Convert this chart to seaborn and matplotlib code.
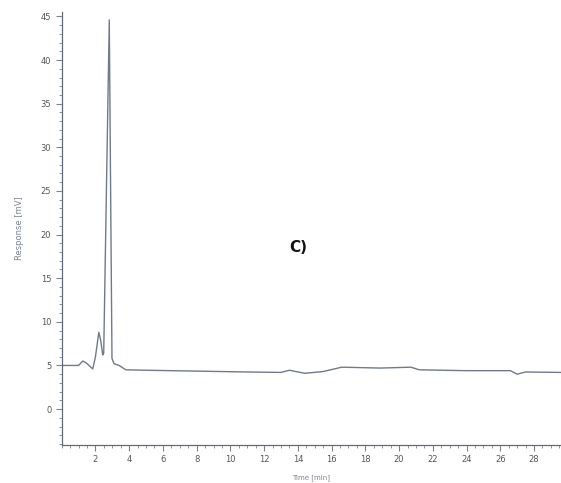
import matplotlib
matplotlib.use("Agg")
import matplotlib.pyplot as plt
import seaborn as sns
import pandas as pd
from matplotlib.ticker import MultipleLocator

# Chromatogram trace
time_min = [0, 1.0, 1.25, 1.45, 1.84, 2.0, 2.2, 2.32, 2.43, 2.49, 2.65, 2.82,
            2.92, 2.98, 3.1, 3.4, 3.8, 5, 8, 11, 13, 13.5, 14.4, 15.5, 16.6,
            18.9, 20.7, 21.2, 24, 26.6, 27.0, 27.5, 29.6]
response_mv = [5.0, 5.0, 5.5, 5.3, 4.6, 6.0, 8.8, 7.8, 6.2, 6.4, 25.0, 44.6,
               20.0, 5.8, 5.2, 5.0, 4.5, 4.45, 4.35, 4.25, 4.2, 4.45, 4.1,
               4.3, 4.8, 4.7, 4.8, 4.5, 4.4, 4.4, 4.0, 4.25, 4.2]
x_ticks = [2, 4, 6, 8, 10, 12, 14, 16, 18, 20, 22, 24, 26, 28]
y_ticks = [0, 5, 10, 15, 20, 25, 30, 35, 40, 45]

df = pd.DataFrame({"Time [min]": time_min, "Response [mV]": response_mv})

sns.set_style("ticks")
fig = plt.figure(figsize=(5.61, 4.83), dpi=100)
ax = fig.add_axes([0.110, 0.079, 0.890, 0.896])

line_col = "#6f7a8c"
txt_col = "#7a8290"
sns.lineplot(data=df, x="Time [min]", y="Response [mV]", sort=False,
             color=line_col, linewidth=1.0, ax=ax)

ax.set_xlim(0, 29.6)
ax.set_ylim(-4.1, 45.5)
ax.set_xticks(x_ticks)
ax.set_yticks(y_ticks)
ax.xaxis.set_minor_locator(MultipleLocator(0.5))
ax.yaxis.set_minor_locator(MultipleLocator(1))
ax.tick_params(axis="both", which="major", labelsize=6, colors=txt_col,
               length=4, width=0.8, direction="out")
ax.tick_params(axis="both", which="minor", colors=txt_col, length=2.5, width=0.6)
for lab in ax.get_xticklabels() + ax.get_yticklabels():
    lab.set_color("#555555")
ax.set_xlabel("Time [min]", fontsize=5, color=txt_col, labelpad=7)
ax.set_ylabel("Response [mV]", fontsize=6, color=txt_col, labelpad=12)
for s in ["top", "right"]:
    ax.spines[s].set_visible(False)
for s in ["left", "bottom"]:
    ax.spines[s].set_color("#606a78")
    ax.spines[s].set_linewidth(0.9)

ax.text(14.05, 18.5, "C)", fontsize=11, fontweight="bold", color="#111111",
        ha="center", va="center")

fig.savefig("out.png", dpi=100)
